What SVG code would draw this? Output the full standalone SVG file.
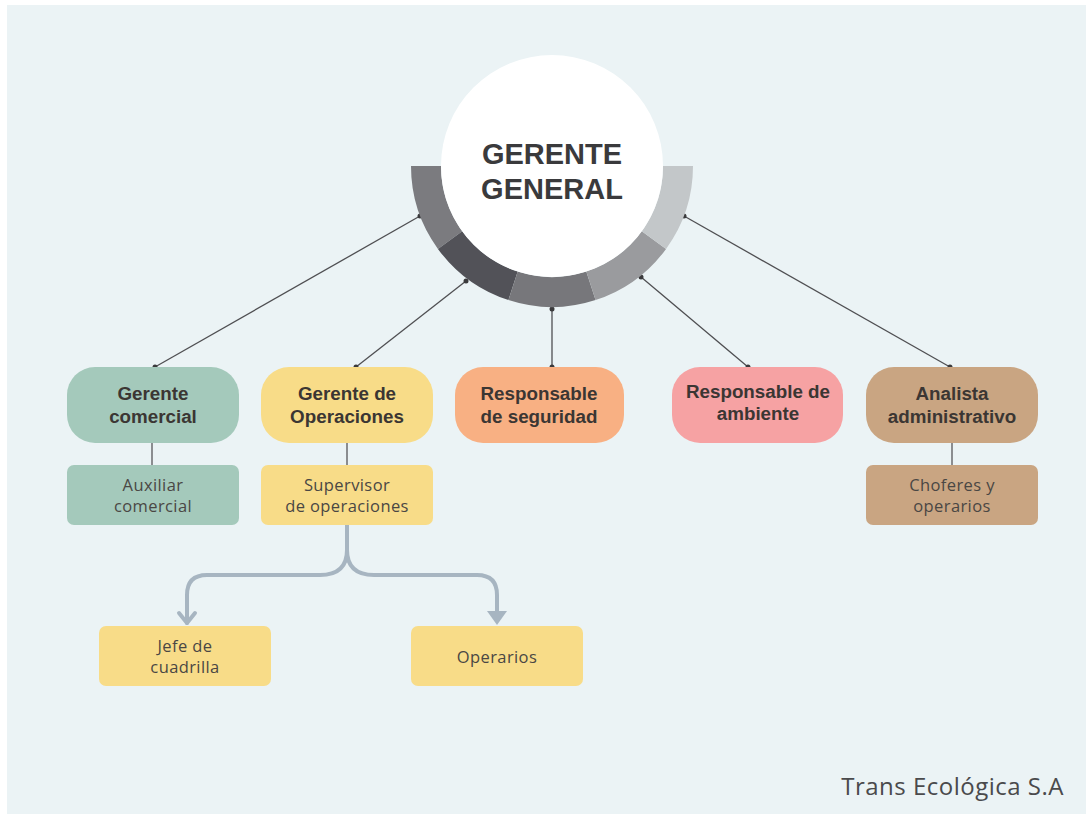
<svg xmlns="http://www.w3.org/2000/svg" width="1086" height="814" viewBox="0 0 1086 814">
<style>
.bg{fill:#ebf3f5}
.conn{stroke:#4f4f52;stroke-width:1.3;fill:none}
.dot{fill:#3a3a3c}
.stub{stroke:#6b6b6e;stroke-width:1.5}
.branch{stroke:#a7b5c1;stroke-width:4;fill:none;stroke-linecap:round;stroke-linejoin:round}
.ring{fill:none;stroke-width:30}
.hd{font-family:"Liberation Sans",Arial,sans-serif;font-weight:bold;font-size:18.8px;fill:#3b3633;text-anchor:middle}
.tx{font-family:"Open Sans","Liberation Sans",sans-serif;font-size:16.5px;letter-spacing:0.4px;fill:#4a4744;text-anchor:middle}
.title{font-family:"Liberation Sans",Arial,sans-serif;font-weight:bold;font-size:29px;fill:#3a3a3c;text-anchor:middle}
</style>
<rect x="0" y="0" width="1086" height="814" fill="#ffffff"/>
<rect class="bg" x="7" y="5" width="1079" height="809"/>

<g id="connectors">
<line class="conn" x1="420" y1="216" x2="155" y2="367"/>
<line class="conn" x1="466" y1="281" x2="356" y2="367"/>
<line class="conn" x1="552" y1="309" x2="552" y2="367"/>
<line class="conn" x1="641" y1="277" x2="748" y2="367"/>
<line class="conn" x1="684" y1="216" x2="950" y2="367"/>
<circle class="dot" cx="420" cy="216" r="2.5"/>
<circle class="dot" cx="155" cy="367" r="2.5"/>
<circle class="dot" cx="466" cy="281" r="2.5"/>
<circle class="dot" cx="356" cy="367" r="2.5"/>
<circle class="dot" cx="552" cy="309" r="2.5"/>
<circle class="dot" cx="552" cy="367" r="2.5"/>
<circle class="dot" cx="641" cy="277" r="2.5"/>
<circle class="dot" cx="748" cy="367" r="2.5"/>
<circle class="dot" cx="684" cy="216" r="2.5"/>
<circle class="dot" cx="950" cy="367" r="2.5"/>
<line class="stub" x1="152" y1="443" x2="152" y2="466"/>
<line class="stub" x1="347" y1="443" x2="347" y2="466"/>
<line class="stub" x1="952" y1="443" x2="952" y2="466"/>
<path class="branch" d="M347,525 V550 Q347,575 320,575 H207 Q187,575 187,595 V623"/>
<path class="branch" d="M347,550 Q347,575 374,575 H477 Q497,575 497,595 V612"/>
<path class="branch" d="M179,613 L187,623 L195,613"/>
<polygon points="487,611 507,611 497,625" fill="#a7b5c1"/>
</g>

<g id="gerente-general">
<path class="ring" stroke="#7b7b7f" d="M426,166 A126,126 0 0 0 450.07,240.06"/>
<path class="ring" stroke="#525258" d="M450.07,240.06 A126,126 0 0 0 513.07,285.84"/>
<path class="ring" stroke="#77777b" d="M513.07,285.84 A126,126 0 0 0 590.93,285.84"/>
<path class="ring" stroke="#9a9b9e" d="M590.93,285.84 A126,126 0 0 0 653.93,240.06"/>
<path class="ring" stroke="#c3c7c9" d="M653.93,240.06 A126,126 0 0 0 678,166"/>
<circle cx="552" cy="166" r="111" fill="#ffffff"/>
<text class="title" x="552" y="164">GERENTE</text>
<text class="title" x="552" y="199">GENERAL</text>
</g>

<g id="gerente-comercial">
<rect x="67" y="367" width="172" height="76" rx="28" fill="#a4c9bb"/>
<text class="hd" x="153" y="400">Gerente</text>
<text class="hd" x="153" y="423">comercial</text>
</g>
<g id="gerente-operaciones">
<rect x="261" y="367" width="172" height="76" rx="28" fill="#f8dc88"/>
<text class="hd" x="347" y="400">Gerente de</text>
<text class="hd" x="347" y="423">Operaciones</text>
</g>
<g id="responsable-seguridad">
<rect x="455" y="367" width="169" height="76" rx="28" fill="#f8b083"/>
<text class="hd" x="539" y="400">Responsable</text>
<text class="hd" x="539" y="423">de seguridad</text>
</g>
<g id="responsable-ambiente">
<rect x="672" y="367" width="171" height="76" rx="28" fill="#f6a2a3"/>
<text class="hd" x="758" y="398">Responsable de</text>
<text class="hd" x="758" y="420">ambiente</text>
</g>
<g id="analista-administrativo">
<rect x="866" y="367" width="172" height="76" rx="28" fill="#c9a582"/>
<text class="hd" x="952" y="400">Analista</text>
<text class="hd" x="952" y="423">administrativo</text>
</g>

<g id="auxiliar-comercial">
<rect x="67" y="465" width="172" height="60" rx="7" fill="#a4c9bb"/>
<text class="tx" x="153" y="491">Auxiliar</text>
<text class="tx" x="153" y="512">comercial</text>
</g>
<g id="supervisor-operaciones">
<rect x="261" y="465" width="172" height="60" rx="7" fill="#f8dc88"/>
<text class="tx" x="347" y="491">Supervisor</text>
<text class="tx" x="347" y="512">de operaciones</text>
</g>
<g id="choferes-operarios">
<rect x="866" y="465" width="172" height="60" rx="7" fill="#c9a582"/>
<text class="tx" x="952" y="491">Choferes y</text>
<text class="tx" x="952" y="512">operarios</text>
</g>
<g id="jefe-cuadrilla">
<rect x="99" y="626" width="172" height="60" rx="7" fill="#f8dc88"/>
<text class="tx" x="185" y="652">Jefe de</text>
<text class="tx" x="185" y="673">cuadrilla</text>
</g>
<g id="operarios">
<rect x="411" y="626" width="172" height="60" rx="7" fill="#f8dc88"/>
<text class="tx" x="497" y="663">Operarios</text>
</g>

<text x="1064" y="795" font-family="'Open Sans','Liberation Sans',sans-serif" font-size="24" letter-spacing="0.5" fill="#4a4a4c" text-anchor="end">Trans Ecológica S.A</text>
</svg>
